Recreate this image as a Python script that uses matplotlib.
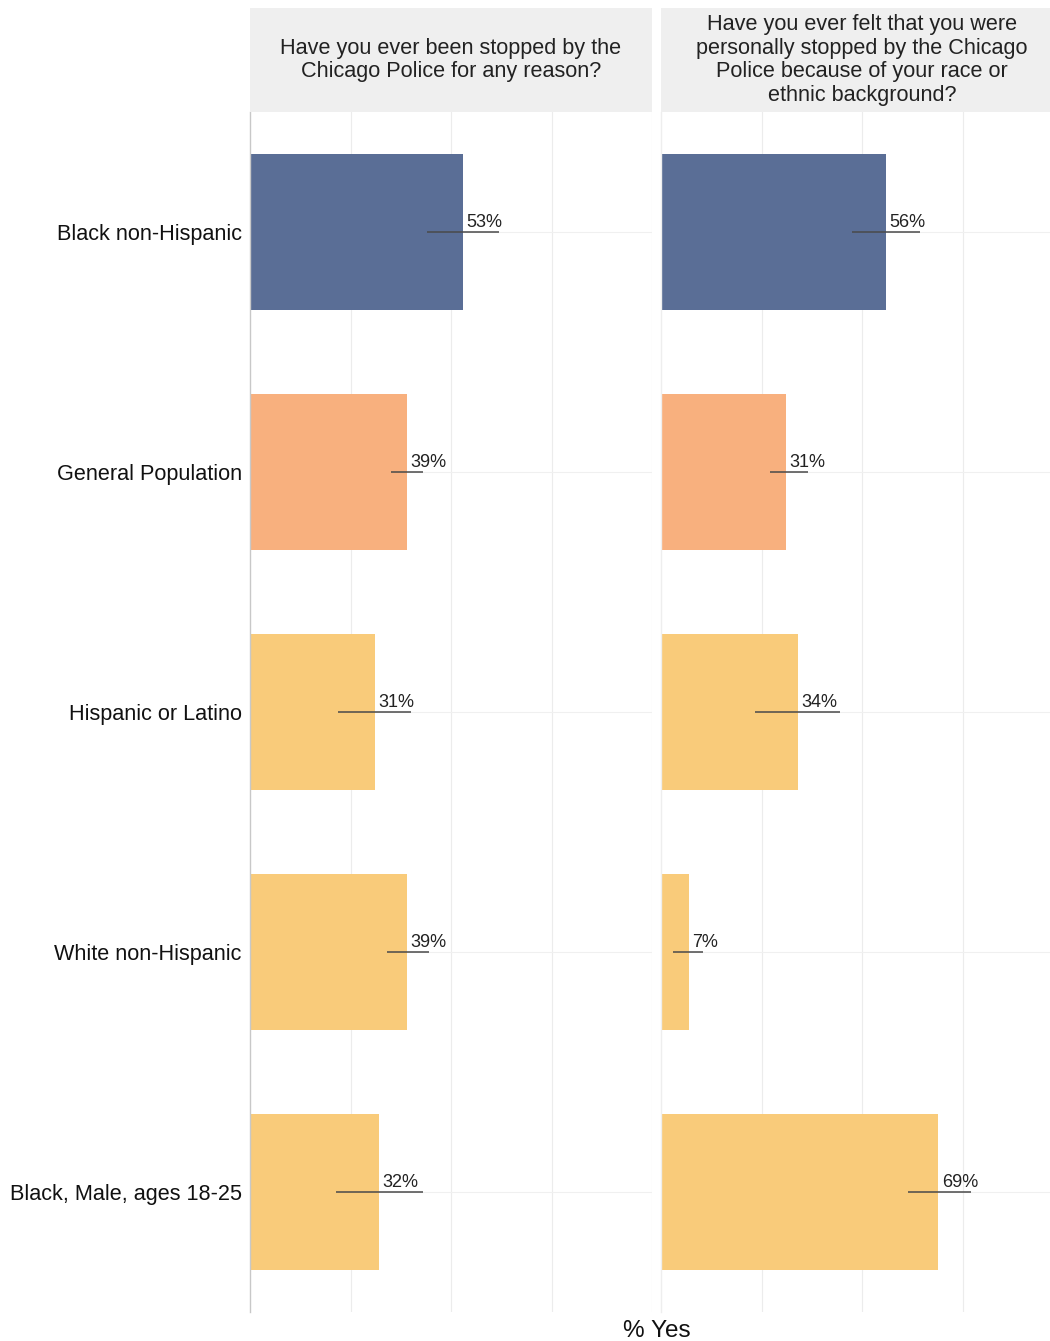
import numpy as np
import matplotlib
matplotlib.use("Agg")
import matplotlib.pyplot as plt
from matplotlib.patches import Rectangle

plt.rcParams['font.family'] = ['Liberation Sans', 'DejaVu Sans']

# --- data ---
groups = ["Black non-Hispanic", "General Population", "Hispanic or Latino",
          "White non-Hispanic", "Black, Male, ages 18-25"]
questions = ["Have you ever been stopped by the\nChicago Police for any reason?",
             "Have you ever felt that you were\npersonally stopped by the Chicago\n"
             "Police because of your race or\nethnic background?"]
stopped_any = [53, 39, 31, 39, 32]
stopped_any_lo = [44, 35, 22, 34, 21.5]
stopped_any_hi = [62, 43, 40, 44.5, 43]
stopped_race = [56, 31, 34, 7, 69]
stopped_race_lo = [47.5, 27, 23.5, 3, 61.5]
stopped_race_hi = [64.5, 36.5, 44.5, 10.5, 77]
bar_colors = ["#5a6e96", "#f8b07e", "#f9cb7a", "#f9cb7a", "#f9cb7a"]

panels = [(stopped_any, stopped_any_lo, stopped_any_hi),
          (stopped_race, stopped_race_lo, stopped_race_hi)]

W, H = 1050, 1341
fig = plt.figure(figsize=(W / 100, H / 100), dpi=100)

lefts = [250, 661]
pw = 402
top, bottom = 112, 1312
y = np.arange(len(groups))

for i, (vals, lo, hi) in enumerate(panels):
    ax = fig.add_axes([lefts[i] / W, (H - bottom) / H, pw / W, (bottom - top) / H])
    ax.set_xlim(0, 100)
    ax.set_ylim(len(groups) - 0.5, -0.5)
    for gx in [25, 50, 75, 100]:
        ax.axvline(gx, color="#ececec", lw=0.8, zorder=0)
    for gy in y:
        ax.axhline(gy, color="#f0f0f0", lw=0.8, zorder=0)
    ax.barh(y, vals, height=0.65, color=bar_colors, zorder=2)
    ax.hlines(y, lo, hi, color="#4a4a4a", lw=1.3, alpha=0.85, zorder=3)
    for yy, v in zip(y, vals):
        ax.annotate(f"{v}%", (v, yy), xytext=(2.5, 0.5), textcoords="offset points",
                    ha="left", va="bottom", fontsize=13, color="#222222", zorder=4)
    ax.set_xticks([])
    ax.set_yticks(y)
    if i == 0:
        ax.set_yticklabels(groups, fontsize=15.6, color="#111111")
        ax.tick_params(axis="y", length=0, pad=6)
    else:
        ax.set_yticklabels([])
        ax.tick_params(axis="y", length=0)
    for s in ["top", "right", "bottom"]:
        ax.spines[s].set_visible(False)
    ax.spines["left"].set_color("#c8c8c8" if i == 0 else "#eeeeee")
    ax.spines["left"].set_linewidth(1.0)

    # facet strip
    sax = fig.add_axes([lefts[i] / W, (H - top) / H, pw / W, (top - 8) / H])
    sax.set_xlim(0, 1)
    sax.set_ylim(0, 1)
    sax.add_patch(Rectangle((0, 0), 1, 1, color="#efefef"))
    sax.text(0.5, 0.5, questions[i], ha="center", va="center", fontsize=15.6,
             color="#222222", linespacing=1.18)
    sax.axis("off")

fig.text(657 / W, 1 - 1331 / H, "% Yes", ha="center", va="center", fontsize=17.5, color="#111111")

fig.savefig("out.png", dpi=100)
